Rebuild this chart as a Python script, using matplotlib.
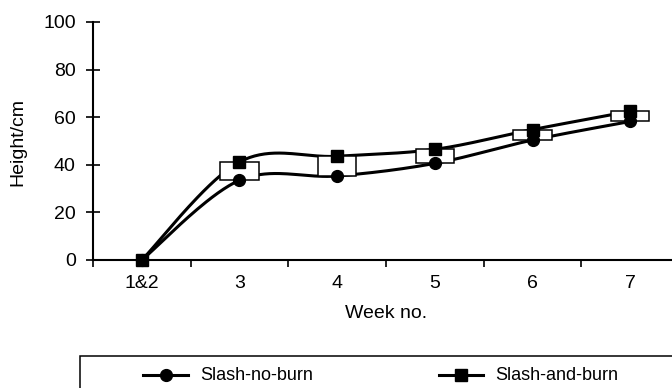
import numpy as np
import matplotlib
matplotlib.use('Agg')
import matplotlib.pyplot as plt
from matplotlib.lines import Line2D
from matplotlib.patches import Rectangle

plt.rcParams['font.family'] = ['Liberation Sans', 'DejaVu Sans']

# ---- Plant height per week ----
weeks = ['1&2', '3', '4', '5', '6', '7']
no_burn = [0, 33.5, 35.3, 40.6, 50.4, 58.2]
and_burn = [0, 41.2, 43.6, 46.5, 54.8, 62.5]


def smooth(y, n=40):
    # Catmull-Rom spline through the points (spreadsheet-style smoothed line)
    y = np.asarray(y, float)
    x = np.arange(len(y), dtype=float)
    px = np.concatenate([[x[0]], x, [x[-1]]])
    py = np.concatenate([[y[0]], y, [y[-1]]])
    xs, ys = [], []
    t = np.linspace(0, 1, n)
    for i in range(1, len(px) - 2):
        m0x, m1x = (px[i + 1] - px[i - 1]) / 2, (px[i + 2] - px[i]) / 2
        m0y, m1y = (py[i + 1] - py[i - 1]) / 2, (py[i + 2] - py[i]) / 2
        h00 = 2 * t**3 - 3 * t**2 + 1
        h10 = t**3 - 2 * t**2 + t
        h01 = -2 * t**3 + 3 * t**2
        h11 = t**3 - t**2
        xs.append(h00 * px[i] + h10 * m0x + h01 * px[i + 1] + h11 * m1x)
        ys.append(h00 * py[i] + h10 * m0y + h01 * py[i + 1] + h11 * m1y)
    return np.concatenate(xs), np.concatenate(ys)


W, H = 672, 388
fig = plt.figure(figsize=(W / 100, H / 100), dpi=100)


def fx(p):
    return p / W


def fy(p):
    return 1 - p / H


# axes run off the right edge of the figure
ax = fig.add_axes([fx(93), fy(260), fx(586), (260 - 22) / H])
x = np.arange(len(weeks))

# ---- Smoothed lines, up/down boxes, markers ----
sx, sy = smooth(no_burn)
ax.plot(sx, sy, color='k', lw=2.2, zorder=2, clip_on=False)
sx, sy = smooth(and_burn)
ax.plot(sx, sy, color='k', lw=2.2, zorder=2, clip_on=False)

ax.bar(x, np.array(and_burn) - np.array(no_burn), bottom=no_burn, width=0.39,
       facecolor='white', edgecolor='k', linewidth=1.1, zorder=3)

ax.plot(x, no_burn, 'o', color='k', ms=8.5, zorder=4, clip_on=False)
ax.plot(x, and_burn, 's', color='k', ms=8.5, zorder=4, clip_on=False)

# ---- Axes styling ----
ax.set_xlim(-0.5, 5.5)
ax.set_ylim(0, 100)
for side in ['top', 'right']:
    ax.spines[side].set_visible(False)
for side in ['left', 'bottom']:
    ax.spines[side].set_linewidth(1.5)

ax.set_yticks(np.arange(0, 101, 20))
ax.set_xticks(x)
ax.set_xticklabels(weeks)
ax.set_xticks(np.arange(-0.5, 5.5, 1), minor=True)
ax.tick_params(axis='y', direction='inout', length=10, width=1.2, labelsize=14, pad=7.5)
ax.tick_params(axis='x', which='major', length=0, labelsize=14, pad=11)
ax.tick_params(axis='x', which='minor', direction='out', length=5, width=1.2)

fig.text(fx(18), fy(142), 'Height/cm', rotation=90, ha='center', va='center', fontsize=14)
fig.text(fx(386), fy(313), 'Week no.', ha='center', va='center', fontsize=14)

# ---- Legend box (runs off the bottom right) ----
fig.add_artist(Rectangle((fx(80), -0.2), 1.0, fy(356) + 0.2, transform=fig.transFigure,
                         facecolor='none', edgecolor='k', linewidth=1.1, clip_on=False))
entries = [('o', 'Slash-no-burn', 143, 188, 200), ('s', 'Slash-and-burn', 439, 483, 495)]
for mk, label, x0, x1, tx in entries:
    fig.add_artist(Line2D([fx(x0), fx(x1)], [fy(375), fy(375)], transform=fig.transFigure,
                          color='k', lw=2.2))
    fig.add_artist(Line2D([fx((x0 + x1) / 2)], [fy(375)], transform=fig.transFigure,
                          marker=mk, color='k', ms=8.5))
    fig.text(fx(tx), fy(375), label, ha='left', va='center', fontsize=13)

fig.savefig('out.png', dpi=100)
